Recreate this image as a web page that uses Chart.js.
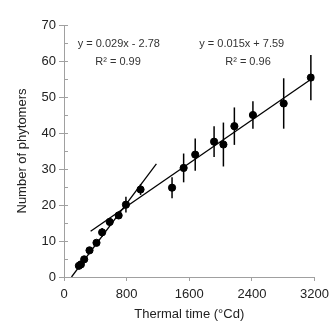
<!DOCTYPE html>
<html>
<head>
<meta charset="utf-8">
<script src="https://cdn.jsdelivr.net/npm/chart.js@4.4.0/dist/chart.umd.min.js"></script>
<style>
    body { margin: 0; background: #ffffff; }
    #wrap { width: 335px; height: 322px; }
</style>
</head>
<body>
<div id="wrap"><canvas id="chart" width="335" height="322"></canvas></div>
<script>
// Observed phytomer counts vs thermal time
const thermalTime = [190, 216, 258, 326, 415, 487, 584, 698, 791, 978, 1380, 1528, 1676, 1917, 2036, 2176, 2413, 2806, 3153];
const phytomers = [3.1, 3.5, 4.9, 7.4, 9.5, 12.4, 15.3, 17.1, 20.1, 24.3, 24.8, 30.3, 34.0, 37.6, 36.8, 41.9, 45.0, 48.2, 55.4];
const phytomerErr = [0.4, 0.4, 0.5, 0.5, 0.5, 1.2, 1.0, 0.8, 2.2, 1.5, 2.9, 4.0, 4.5, 4.3, 6.1, 5.2, 3.8, 7.0, 6.3];

// Regression line end points
const fitEarlyX = [96, 1180];
const fitEarlyY = [0, 31.4];
const fitLateX = [340, 3160];
const fitLateY = [12.7, 55.0];

// Equation labels
const eqLabels = [
    { text: 'y = 0.029x - 2.78', x: 700, y: 64.8 },
    { text: 'R\u00B2 = 0.99', x: 690, y: 59.6 },
    { text: 'y = 0.015x + 7.59', x: 2270, y: 64.8 },
    { text: 'R\u00B2 = 0.96', x: 2350, y: 59.6 }
];

const xTicks = [0, 800, 1600, 2400, 3200];
const yTicks = [0, 10, 20, 30, 40, 50, 60, 70];

const toPoints = (xs, ys) => xs.map((x, i) => ({ x: x, y: ys[i] }));

// Vertical error bars, no caps
const errorBarPlugin = {
    id: 'errorBars',
    afterDatasetsDraw(chart) {
        const ctx = chart.ctx;
        const xs = chart.scales.x;
        const ys = chart.scales.y;
        ctx.save();
        ctx.strokeStyle = '#000000';
        ctx.lineWidth = 1.5;
        thermalTime.forEach((t, i) => {
            const px = xs.getPixelForValue(t);
            ctx.beginPath();
            ctx.moveTo(px, ys.getPixelForValue(phytomers[i] - phytomerErr[i]));
            ctx.lineTo(px, ys.getPixelForValue(phytomers[i] + phytomerErr[i]));
            ctx.stroke();
        });
        ctx.restore();
    }
};

// Inside ticks on the y axis (major and minor), plus equation text
const extrasPlugin = {
    id: 'extras',
    afterDraw(chart) {
        const ctx = chart.ctx;
        const xs = chart.scales.x;
        const ys = chart.scales.y;
        const left = chart.chartArea.left;
        ctx.save();
        ctx.strokeStyle = '#a0a0a0';
        ctx.lineWidth = 1;
        for (let v = 0; v <= 70; v += 5) {
            const py = Math.round(ys.getPixelForValue(v)) + 0.5;
            ctx.beginPath();
            ctx.moveTo(left, py);
            ctx.lineTo(left + 4, py);
            ctx.stroke();
        }
        ctx.fillStyle = '#333333';
        ctx.font = '11px "Liberation Sans", Arial, sans-serif';
        ctx.textAlign = 'center';
        ctx.textBaseline = 'middle';
        eqLabels.forEach(l => {
            ctx.fillText(l.text, xs.getPixelForValue(l.x), ys.getPixelForValue(l.y));
        });
        ctx.restore();
    }
};

const font = { family: '"Liberation Sans", Arial, sans-serif', size: 13 };

new Chart(document.getElementById('chart'), {
    type: 'scatter',
    data: {
        datasets: [
            {
                label: 'Phytomers',
                data: toPoints(thermalTime, phytomers),
                backgroundColor: '#000000',
                borderColor: '#000000',
                pointRadius: 3.6,
                pointHoverRadius: 3.6
            },
            {
                label: 'Fit early',
                type: 'line',
                data: toPoints(fitEarlyX, fitEarlyY),
                borderColor: '#000000',
                borderWidth: 1.3,
                pointRadius: 0,
                fill: false
            },
            {
                label: 'Fit late',
                type: 'line',
                data: toPoints(fitLateX, fitLateY),
                borderColor: '#000000',
                borderWidth: 1.3,
                pointRadius: 0,
                fill: false
            }
        ]
    },
    options: {
        responsive: false,
        animation: false,
        layout: { padding: { top: 25, right: 19, left: 0, bottom: 0 } },
        plugins: {
            legend: { display: false },
            tooltip: { enabled: false }
        },
        scales: {
            x: {
                type: 'linear',
                min: 0,
                max: 3200,
                afterBuildTicks: scale => { scale.ticks = xTicks.map(v => ({ value: v })); },
                afterFit: scale => { scale.height = 45; },
                border: { color: '#a0a0a0', width: 1 },
                grid: { drawOnChartArea: false, tickLength: 4, color: '#a0a0a0' },
                ticks: { color: '#222222', font: font, padding: 6, maxRotation: 0, callback: v => String(v) },
                title: {
                    display: true,
                    text: 'Thermal time (\u00B0Cd)',
                    color: '#222222',
                    font: font,
                    padding: { top: 0, bottom: 0 }
                }
            },
            y: {
                type: 'linear',
                min: 0,
                max: 70,
                afterBuildTicks: scale => { scale.ticks = yTicks.map(v => ({ value: v })); },
                afterFit: scale => { scale.width = 64; },
                border: { color: '#a0a0a0', width: 1 },
                grid: { drawOnChartArea: false, tickLength: 5, color: '#a0a0a0' },
                ticks: { color: '#222222', font: font, padding: 3, callback: v => String(v) },
                title: {
                    display: true,
                    text: 'Number of phytomers',
                    color: '#222222',
                    font: font,
                    padding: { top: 15, bottom: 0 }
                }
            }
        }
    },
    plugins: [errorBarPlugin, extrasPlugin]
});
</script>
</body>
</html>
